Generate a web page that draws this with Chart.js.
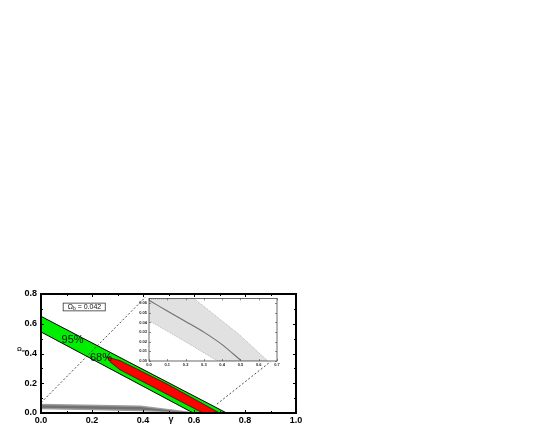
<!DOCTYPE html>
<html>
<head>
<meta charset="utf-8">
<script src="https://cdn.jsdelivr.net/npm/chart.js@4"></script>
<style>
  html, body { margin: 0; padding: 0; background: #fff; overflow: hidden; }
  #main { position: absolute; left: 0; top: 284px; }
  #inset { position: absolute; left: 133px; top: 294px; }
</style>
</head>
<body>
<canvas id="main" width="310" height="149"></canvas>
<canvas id="inset" width="150" height="74"></canvas>
<script>
// ---- dati pannello principale (gamma, Omega) ----
const band95 = [[0, 0.65], [0.728, 0], [0.597, 0], [0, 0.545]]
const band68 = [[0.255, 0.378], [0.31, 0.352], [0.5, 0.19], [0.70, 0], [0.635, 0], [0.45, 0.165], [0.31, 0.29], [0.27, 0.345]]
const grayOuter = [[0, 0.062], [0.39, 0.05], [0.58, 0.01], [0.6, 0], [0.39, 0.012], [0, 0.026]]
const grayInner = [[0, 0.052], [0.39, 0.04], [0.57, 0.005], [0.39, 0.022], [0, 0.036]]
const zoomLine1 = [[0, 0.069], [0.41, 0.78]]
const zoomLine2 = [[0.69, 0.06], [0.90, 0.345]]

// ---- dati inset ----
const insetUpper = [[0, 0.064], [0.245, 0.065], [0.49, 0.028], [0.65, 0]]
const insetLower = [[0.375, 0], [0.2, 0.02], [0, 0.042]]
const insetCurve = [[0, 0.063], [0.1, 0.052], [0.2, 0.041], [0.3, 0.030], [0.4, 0.017], [0.5, 0.001]]

const pts = arr => arr.map(([x, y]) => ({ x, y }))

// cornice + tacche interne su tutti i lati
const frameTicks = {
  id: 'frameTicks',
  afterDatasetsDraw(chart, args, o) {
    const { ctx, chartArea: a, scales: { x, y } } = chart
    ctx.save()
    ctx.strokeStyle = o.color
    ctx.lineWidth = o.tickWidth
    ctx.beginPath()
    x.ticks.forEach(t => {
      const px = Math.round(x.getPixelForValue(t.value)) + 0.5
      const len = t.label ? o.major : o.minor
      ctx.moveTo(px, a.bottom); ctx.lineTo(px, a.bottom - len)
      ctx.moveTo(px, a.top); ctx.lineTo(px, a.top + len)
    })
    y.ticks.forEach(t => {
      const py = Math.round(y.getPixelForValue(t.value)) + 0.5
      const len = t.label ? o.major : o.minor
      ctx.moveTo(a.left, py); ctx.lineTo(a.left + len, py)
      ctx.moveTo(a.right, py); ctx.lineTo(a.right - len, py)
    })
    ctx.stroke()
    ctx.lineWidth = o.width
    ctx.strokeRect(a.left, a.top, a.width, a.height)
    ctx.restore()
  }
}

// testi: percentuali, box Omega_b, titoli assi
const labels = {
  id: 'labels',
  afterDraw(chart) {
    const { ctx, scales: { x, y } } = chart
    ctx.save()
    ctx.fillStyle = '#111'
    ctx.font = '11px "Liberation Sans", Arial, sans-serif'
    ctx.textAlign = 'center'
    ctx.textBaseline = 'middle'
    ctx.fillText('95%', x.getPixelForValue(0.124), y.getPixelForValue(0.49))
    ctx.fillText('68%', x.getPixelForValue(0.235), y.getPixelForValue(0.372))

    // box Omega_b
    const bx = x.getPixelForValue(0.085), by = y.getPixelForValue(0.742)
    const bw = x.getPixelForValue(0.25) - bx, bh = y.getPixelForValue(0.69) - by
    ctx.fillStyle = '#fff'
    ctx.fillRect(bx, by, bw, bh)
    ctx.strokeStyle = '#333'
    ctx.lineWidth = 0.8
    ctx.strokeRect(bx + 0.5, by + 0.5, bw, bh)
    ctx.fillStyle = '#111'
    ctx.textAlign = 'left'
    ctx.font = '7px "Liberation Sans", Arial, sans-serif'
    let tx = bx + 5, ty = by + bh / 2 + 0.5
    ctx.fillText('Ω', tx, ty)
    tx += ctx.measureText('Ω').width
    ctx.font = '5px "Liberation Sans", Arial, sans-serif'
    ctx.fillText('b', tx, ty + 2)
    tx += ctx.measureText('b').width
    ctx.font = '7px "Liberation Sans", Arial, sans-serif'
    ctx.fillText(' = 0.042', tx, ty)

    // titolo asse x
    ctx.font = 'bold 9px "Liberation Sans", Arial, sans-serif'
    ctx.textAlign = 'center'
    ctx.fillText('γ', x.getPixelForValue(0.51), chart.chartArea.bottom + 7)

    // titolo asse y
    ctx.font = 'bold 6px "Liberation Sans", Arial, sans-serif'
    ctx.textAlign = 'left'
    ctx.fillText('Ω', 17, y.getPixelForValue(0.43))
    ctx.font = 'bold 4px "Liberation Sans", Arial, sans-serif'
    ctx.fillText('m', 22, y.getPixelForValue(0.43) + 1.5)
    ctx.restore()
  }
}

const poly = (data, bg, border, order, width) => ({
  data: pts(data), showLine: true, fill: 'shape', backgroundColor: bg,
  borderColor: border, borderWidth: width, pointRadius: 0, tension: 0, order
})
const dashed = data => ({
  data: pts(data), showLine: true, fill: false, borderColor: '#222',
  borderWidth: 0.8, borderDash: [2, 2], pointRadius: 0, order: 0
})

const tickFont = { family: '"Liberation Sans", Arial, sans-serif', size: 9, weight: 'bold' }
const evenLabel = v => Math.round(v * 10) % 2 === 0 ? v.toFixed(1) : ''

new Chart(document.getElementById('main'), {
  type: 'scatter',
  data: {
    datasets: [
      poly(band95, '#00ee00', '#000', 4, 1),
      poly(band68, '#ff0000', '#000', 3, 0.6),
      poly(grayOuter, '#9c9c9c', 'rgba(0,0,0,0)', 2, 0),
      poly(grayInner, '#707070', 'rgba(0,0,0,0)', 1, 0),
      dashed(zoomLine1),
      dashed(zoomLine2)
    ]
  },
  options: {
    responsive: false, animation: false, devicePixelRatio: 1,
    layout: { padding: { left: 0, top: 10, right: 14, bottom: 0 } },
    plugins: {
      legend: { display: false }, tooltip: { enabled: false },
      frameTicks: { color: '#000', tickWidth: 1, major: 3, minor: 2, width: 2 }
    },
    scales: {
      x: {
        min: 0, max: 1,
        grid: { display: false, drawTicks: false }, border: { display: false },
        ticks: { stepSize: 0.1, callback: evenLabel, font: tickFont, color: '#000', padding: 2, autoSkip: false, maxRotation: 0 },
        afterFit: s => { s.height = 20 }
      },
      y: {
        min: 0, max: 0.8,
        grid: { display: false, drawTicks: false }, border: { display: false },
        ticks: { stepSize: 0.1, callback: evenLabel, font: tickFont, color: '#000', padding: 4, autoSkip: false },
        afterFit: s => { s.width = 41 }
      }
    }
  },
  plugins: [frameTicks, labels]
})

// ---- inset ----
const insetFont = { family: '"Liberation Sans", Arial, sans-serif', size: 4, weight: 'bold' }
new Chart(document.getElementById('inset'), {
  type: 'scatter',
  data: {
    datasets: [
      {
        data: pts(insetUpper.concat(insetLower)), showLine: true, fill: 'shape',
        backgroundColor: '#e1e1e1', borderColor: '#b5b5b5', borderWidth: 1,
        borderDash: [1, 1], pointRadius: 0, tension: 0, order: 2
      },
      {
        data: pts(insetCurve), showLine: true, fill: false, borderColor: '#707070',
        borderWidth: 1.1, pointRadius: 0, tension: 0.2, order: 1
      }
    ]
  },
  options: {
    responsive: false, animation: false, devicePixelRatio: 1,
    layout: { padding: { left: 0, top: 4, right: 6, bottom: 0 } },
    plugins: {
      legend: { display: false }, tooltip: { enabled: false },
      frameTicks: { color: '#444', tickWidth: 0.6, major: 2, minor: 1, width: 0.8 }
    },
    scales: {
      x: {
        min: 0, max: 0.7,
        grid: { display: false, drawTicks: false }, border: { display: false },
        ticks: { stepSize: 0.1, callback: v => v.toFixed(1), font: insetFont, color: '#222', padding: 1, autoSkip: false, maxRotation: 0 },
        afterFit: s => { s.height = 7 }
      },
      y: {
        min: 0, max: 0.065,
        grid: { display: false, drawTicks: false }, border: { display: false },
        afterBuildTicks: s => { s.ticks = s.ticks.filter(t => Math.abs(t.value * 100 - Math.round(t.value * 100)) < 1e-6) },
        ticks: { stepSize: 0.01, callback: v => v.toFixed(2), font: insetFont, color: '#222', padding: 2, autoSkip: false },
        afterFit: s => { s.width = 16 }
      }
    }
  },
  plugins: [frameTicks]
})
</script>
</body>
</html>
